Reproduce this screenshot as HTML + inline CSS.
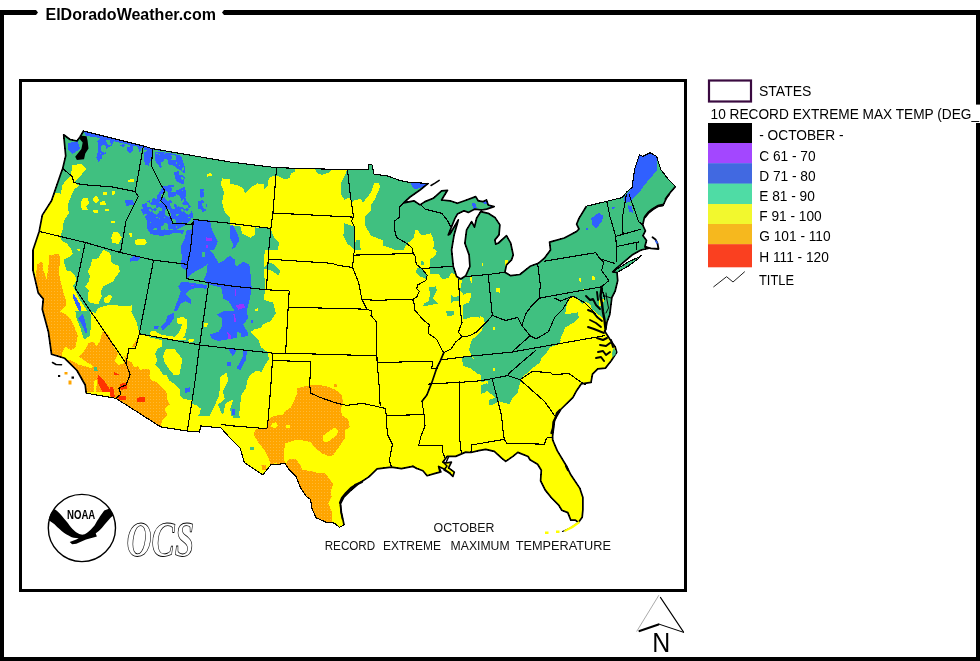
<!DOCTYPE html>
<html><head><meta charset="utf-8"><title>ElDoradoWeather.com</title>
<style>html,body{margin:0;padding:0;background:#fff;overflow:hidden}body{width:980px;height:661px;position:relative}</style></head>
<body>
<svg width="980" height="661" viewBox="0 0 980 661" style="position:absolute;left:0;top:0">
<defs><clipPath id="us"><path d="M63.7 134.8 L70.0 139.5 L77.0 141.0 L80.0 137.0 L83.5 131.0 L143.4 146.0 L152.6 148.7 L230.0 162.0 L276.6 167.7 L347.5 169.7 L368.9 169.1 L368.9 164.6 L372.0 165.0 L374.0 174.2 L387.3 175.9 L399.6 180.4 L409.8 182.4 L428.2 183.4 L420.0 190.0 L410.0 197.0 L403.7 202.8 L413.9 200.8 L420.0 204.9 L425.0 201.6 L433.3 198.3 L441.6 190.8 L447.5 190.3 L444.1 195.8 L441.6 200.0 L450.0 200.8 L457.4 203.3 L466.6 200.0 L475.7 196.6 L478.2 200.8 L483.2 201.6 L486.5 200.0 L488.2 205.0 L494.1 206.6 L486.6 209.1 L481.6 210.0 L474.9 209.1 L468.3 212.4 L464.0 210.8 L457.4 214.1 L455.0 218.3 L448.3 234.9 L450.0 234.0 L458.3 220.0 L454.1 234.9 L451.6 249.9 L453.3 266.5 L456.6 276.5 L460.8 279.0 L465.8 275.7 L469.9 266.5 L469.1 254.9 L464.9 243.2 L466.6 229.9 L471.6 221.6 L474.5 227.0 L476.6 218.3 L480.7 211.6 L488.2 213.3 L494.9 217.4 L499.9 224.9 L499.0 234.9 L494.9 239.9 L495.7 244.1 L498.5 243.0 L506.5 235.7 L510.7 243.2 L513.2 254.9 L511.5 259.9 L506.5 264.9 L504.9 272.3 L510.7 275.7 L519.9 274.5 L530.1 266.3 L538.3 263.3 L544.4 258.2 L550.5 250.0 L549.6 242.1 L564.3 238.0 L576.6 231.5 L579.0 229.0 L576.6 224.2 L579.0 218.4 L586.4 206.2 L606.8 201.3 L622.3 197.5 L626.4 192.3 L632.1 187.4 L634.6 169.4 L639.5 154.7 L642.7 156.3 L650.1 152.7 L656.6 156.3 L660.7 169.4 L668.9 180.0 L675.4 186.6 L670.5 192.3 L667.0 197.0 L663.0 205.5 L658.0 206.0 L653.0 209.0 L648.5 212.5 L644.4 217.5 L642.7 225.0 L645.4 230.9 L643.0 235.7 L646.5 240.5 L645.0 246.0 L648.0 248.5 L643.0 249.5 L640.5 250.3 L632.0 255.1 L616.3 268.4 L612.7 272.0 L617.0 272.5 L617.7 280.6 L615.1 291.2 L611.9 297.5 L610.9 305.0 L609.8 314.5 L607.0 322.0 L605.5 330.0 L604.6 331.0 L609.9 339.3 L615.2 346.9 L616.7 352.2 L611.4 360.5 L605.4 368.1 L597.8 368.8 L592.5 374.1 L591.0 382.4 L581.2 383.9 L576.6 390.7 L573.0 397.3 L560.7 409.5 L554.6 419.7 L552.6 436.1 L552.7 440.0 L557.2 450.6 L566.3 465.7 L570.8 474.8 L579.9 488.4 L582.9 497.5 L582.9 509.6 L582.2 517.2 L578.4 522.5 L575.4 520.2 L570.8 520.2 L567.8 512.6 L561.8 510.3 L558.7 505.1 L551.2 497.5 L545.1 489.9 L540.6 480.8 L541.3 470.3 L537.6 464.2 L530.0 459.7 L528.1 456.5 L517.8 452.4 L512.9 456.4 L505.7 461.4 L501.4 457.9 L494.3 451.4 L485.7 449.3 L478.6 450.7 L471.0 452.5 L465.7 452.1 L455.7 456.4 L447.1 456.4 L442.9 462.1 L446.0 463.0 L451.4 462.1 L448.6 467.9 L454.3 472.1 L452.9 476.4 L450.0 473.6 L444.0 469.0 L438.6 466.4 L440.0 472.1 L434.3 473.6 L427.1 475.7 L422.9 470.7 L417.0 468.5 L412.9 466.4 L401.4 468.6 L391.4 467.1 L377.1 468.8 L368.9 476.9 L358.4 483.8 L349.9 491.2 L343.6 497.5 L340.4 503.9 L341.4 512.4 L344.1 525.1 L339.3 527.2 L334.0 523.0 L326.6 522.4 L316.0 517.7 L311.8 508.1 L310.7 499.7 L306.5 496.5 L300.1 486.9 L295.9 476.4 L289.5 470.0 L285.2 463.7 L270.9 464.7 L262.7 474.9 L256.6 470.8 L244.3 462.6 L240.2 448.3 L230.0 438.1 L221.0 427.9 L200.6 425.9 L199.6 432.0 L187.3 431.0 L160.7 426.9 L115.8 398.3 L86.2 393.2 L85.2 385.0 L77.0 370.5 L64.7 358.3 L51.5 354.2 L48.4 331.7 L42.3 309.2 L43.3 299.0 L38.2 292.9 L33.0 270.4 L33.0 250.0 L39.2 231.4 L42.3 215.1 L51.5 200.8 L60.6 174.2 L62.7 168.5 L65.7 155.9Z M614.0 271.0 L628.0 262.0 L638.1 257.5 L641.7 255.1 L638.0 259.0 L628.4 266.0 L616.0 273.0Z"/></clipPath>
<pattern id="od" width="3" height="3" patternUnits="userSpaceOnUse"><rect width="3" height="3" fill="#ffa500"/><rect width="1" height="1" fill="#ffb833"/></pattern>
<pattern id="bs" width="32" height="32" patternUnits="userSpaceOnUse"><rect width="32" height="32" fill="#3060ff"/><path d="M4 0h4v1h-4zM3 1h5v1h-5zM1 2h7v1h-7zM16 2h1v1h-1zM1 3h7v1h-7zM16 3h1v1h-1zM1 4h7v1h-7zM26 4h3v1h-3zM1 5h3v1h-3zM5 5h4v1h-4zM10 5h3v1h-3zM19 5h1v1h-1zM25 5h4v1h-4zM5 6h10v1h-10zM27 6h2v1h-2zM6 7h10v1h-10zM23 7h1v1h-1zM7 8h2v1h-2zM11 8h6v1h-6zM22 8h2v1h-2zM0 9h2v1h-2zM12 9h7v1h-7zM22 9h2v1h-2zM0 10h1v1h-1zM12 10h9v1h-9zM22 10h1v1h-1zM31 10h1v1h-1zM10 11h7v1h-7zM19 11h3v1h-3zM10 12h4v1h-4zM19 12h4v1h-4zM10 13h4v1h-4zM19 13h9v1h-9zM11 14h3v1h-3zM19 14h9v1h-9zM11 15h4v1h-4zM23 15h5v1h-5zM30 15h2v1h-2zM0 16h2v1h-2zM12 16h3v1h-3zM24 16h2v1h-2zM28 16h4v1h-4zM0 17h2v1h-2zM6 17h3v1h-3zM21 17h2v1h-2zM29 17h3v1h-3zM0 18h2v1h-2zM5 18h5v1h-5zM21 18h3v1h-3zM25 18h1v1h-1zM28 18h4v1h-4zM5 19h5v1h-5zM22 19h1v1h-1zM24 19h7v1h-7zM5 20h5v1h-5zM25 20h6v1h-6zM5 21h6v1h-6zM26 21h4v1h-4zM5 22h6v1h-6zM16 22h3v1h-3zM28 22h1v1h-1zM6 23h5v1h-5zM16 23h2v1h-2zM8 24h1v1h-1zM4 25h1v1h-1zM28 25h2v1h-2zM31 26h1v1h-1zM11 27h4v1h-4zM12 28h4v1h-4zM12 29h4v1h-4zM12 30h4v1h-4zM22 30h1v1h-1zM4 31h3v1h-3zM11 31h5v1h-5z" fill="#40c080"/></pattern>
</defs>
<rect x="0" y="10" width="980" height="5" fill="#000"/>
<rect x="0" y="10" width="4" height="651" fill="#000"/>
<rect x="976" y="10" width="4" height="651" fill="#000"/>
<rect x="0" y="657" width="980" height="4" fill="#000"/>
<rect x="36" y="5" width="188" height="14" fill="#fff"/>
<path d="M36 10 L38 12.5 L36 15Z M224 10 L222 12.5 L224 15Z" fill="#000"/>
<text x="45.5" y="19.5" font-family="Liberation Sans, Arial, sans-serif" font-weight="bold" font-size="16px" textLength="170.5" lengthAdjust="spacingAndGlyphs">ElDoradoWeather.com</text>
<rect x="20.5" y="80.5" width="665" height="510" fill="#fff" stroke="#000" stroke-width="3"/>
<g shape-rendering="crispEdges">
<g clip-path="url(#us)">
<rect x="20" y="100" width="670" height="450" fill="#ffff00"/>
<polygon points="20.0,100.0 276.0,100.0 268.0,250.0 262.0,325.0 246.0,385.0 236.0,415.0 228.0,418.0 200.0,420.0 190.0,400.0 160.0,380.0 150.0,360.0 120.0,340.0 100.0,330.0 80.0,300.0 70.0,280.0 60.0,250.0 50.0,235.0 20.0,235.0" fill="#40c080"/>
<polygon points="71.9,165.1 81.1,164.0 86.2,169.1 80.1,176.3 73.9,182.4 79.0,185.5 73.9,189.6 70.9,196.7 67.8,204.9 68.8,213.1 63.7,221.2 62.7,229.4 60.6,235.5 58.6,250.0 30.0,250.0 40.2,200.8 51.5,200.8 55.5,192.6 60.6,193.7 62.7,184.5 69.8,176.3 71.9,170.2" fill="#ffff00"/>
<polygon points="82.1,198.8 87.2,197.7 89.2,202.8 86.2,205.9 88.2,210.0 82.1,210.0 80.7,204.9" fill="#ffff00"/>
<polygon points="93.7,196.7 97.4,196.3 99.1,200.8 95.4,203.3 92.9,200.4" fill="#ffff00"/>
<polygon points="99.5,201.8 105.2,201.2 106.0,204.9 100.5,205.3" fill="#ffff00"/>
<polygon points="102.5,192.6 106.6,192.2 106.6,195.1 102.5,195.3" fill="#ffff00"/>
<polygon points="112.1,190.6 114.8,190.6 114.4,194.7 111.7,194.7" fill="#ffff00"/>
<polygon points="93.3,210.0 98.4,210.2 98.4,213.1 93.7,213.1" fill="#ffff00"/>
<polygon points="104.6,209.0 108.7,209.4 108.7,211.4 104.6,211.0" fill="#ffff00"/>
<polygon points="110.7,221.2 114.8,221.2 114.8,223.3 110.7,223.3" fill="#ffff00"/>
<polygon points="128.1,180.0 133.8,178.7 134.2,182.0 128.5,182.4" fill="#ffff00"/>
<polygon points="112.7,233.5 117.8,231.9 121.9,237.6 118.9,243.7 112.7,243.3 111.3,237.6" fill="#ffff00"/>
<polygon points="129.1,232.5 132.1,233.5 132.1,237.6 129.7,236.6" fill="#ffff00"/>
<polygon points="135.2,240.0 144.4,239.6 146.9,242.7 144.4,244.9 135.8,244.7" fill="#ffff00"/>
<polygon points="206.7,173.8 211.4,173.2 211.8,175.9 207.3,176.7" fill="#ffff00"/>
<polygon points="222.0,178.3 230.0,179.4 230.0,217.1 225.1,213.1 222.0,202.8 224.1,192.6 221.0,184.5" fill="#ffff00"/>
<polygon points="69.8,143.6 78.0,142.6 80.1,148.7 73.9,152.8 69.8,148.7" fill="#3060ff"/>
<polygon points="97.4,141.6 100.5,137.5 114.8,139.5 111.7,145.6 107.6,147.7 105.6,153.8 101.5,155.9 104.6,166.1 100.5,165.1 96.4,157.9 98.4,149.7" fill="url(#bs)"/>
<polygon points="119.9,142.6 141.3,145.6 140.3,152.8 134.2,148.7 130.1,153.8 125.0,147.7 120.9,148.7" fill="url(#bs)"/>
<polygon points="144.4,147.7 152.2,148.7 151.6,157.9 148.5,166.1 144.4,164.0" fill="url(#bs)"/>
<polygon points="154.6,151.8 168.9,152.8 181.2,155.9 185.3,168.1 184.2,184.5 177.1,182.4 173.0,174.2 171.0,166.1 164.8,162.0 160.7,168.1 155.6,162.0" fill="url(#bs)"/>
<polygon points="162.8,186.5 173.0,184.5 177.1,190.6 185.3,186.5 186.3,200.8 191.4,206.9 193.4,217.1 185.3,225.3 177.1,229.4 168.9,235.5 152.6,234.5 146.4,229.4 147.5,221.2 141.3,211.0 140.3,204.9 148.5,200.8 156.7,196.7 160.7,190.6" fill="url(#bs)"/>
<polygon points="200.6,188.5 204.7,189.6 203.6,200.8 207.7,202.8 205.7,211.0 197.5,213.1 198.5,200.8" fill="url(#bs)"/>
<polygon points="125.0,199.8 133.2,200.4 134.2,204.9 126.0,205.9" fill="#3060ff"/>
<polygon points="193.4,219.2 209.8,220.2 211.8,229.4 217.9,241.7 213.9,250.0 181.2,250.0 185.3,237.6 191.4,229.4" fill="#3060ff"/>
<polygon points="173.0,196.7 179.1,194.7 182.2,202.8 177.1,206.9" fill="#40c080"/>
<polygon points="230.0,115.0 430.0,115.0 430.0,250.0 230.0,250.0" fill="#ffff00"/>
<polygon points="230.0,115.0 295.4,115.0 295.4,171.2 291.3,173.2 289.2,178.3 284.1,179.4 279.0,176.3 276.6,176.3 273.9,175.3 268.8,178.3 269.8,182.4 264.7,189.6 263.7,184.5 257.6,183.4 252.5,186.5 245.3,193.7 243.3,188.5 238.2,185.5 230.0,183.4" fill="#40c080"/>
<polygon points="314.8,168.1 332.1,168.1 330.1,172.2 321.9,174.7 316.8,173.2" fill="#40c080"/>
<polygon points="341.3,182.4 345.4,174.2 347.5,168.1 351.6,196.7 344.4,199.8 341.3,194.7" fill="#40c080"/>
<polygon points="344.4,223.3 350.5,225.3 354.2,226.3 355.0,250.0 347.5,243.7 343.4,235.5" fill="#40c080"/>
<polygon points="347.5,166.1 430.0,155.9 430.0,250.0 354.6,250.0 354.2,226.3 351.6,221.2 353.6,217.1 350.5,196.7" fill="#40c080"/>
<polygon points="352.6,200.8 360.7,198.8 362.8,202.8 371.0,192.6 374.0,183.4 378.1,182.4 380.2,186.5 375.0,198.8 371.0,204.9 371.0,211.0 364.8,217.1 364.8,225.3 371.0,235.5 381.2,239.6 383.2,243.7 377.1,250.0 354.6,250.0 354.2,226.3 351.6,221.2 353.6,217.1 352.2,206.9" fill="#ffff00"/>
<polygon points="355.6,240.6 359.7,239.6 360.7,250.0 355.0,250.0" fill="#40c080"/>
<polygon points="409.8,250.0 413.9,237.6 416.9,229.4 422.0,235.5 430.0,233.5 430.0,250.0" fill="#ffff00"/>
<polygon points="230.0,225.3 240.2,226.3 242.3,233.5 250.4,237.6 255.5,234.5 254.5,227.4 270.9,228.8 273.9,237.6 279.0,242.7 278.0,250.0 230.0,250.0" fill="#40c080"/>
<polygon points="230.0,226.3 233.1,225.3 238.2,235.5 239.2,241.7 234.1,245.7 230.0,237.6" fill="#3060ff"/>
<polygon points="410.8,181.4 422.0,180.8 428.2,184.1 415.9,189.6 411.8,186.5" fill="#3060ff"/>
<polygon points="267.8,180.0 271.5,179.4 271.9,183.4 268.2,183.6" fill="#ffff00"/>
<polygon points="430.0,115.0 695.6,115.0 695.6,250.0 430.0,250.0" fill="#40c080"/>
<polygon points="430.0,232.5 433.1,237.6 434.1,245.7 432.0,250.0 430.0,250.0" fill="#ffff00"/>
<polygon points="639.5,154.7 650.1,152.7 656.6,156.3 657.5,169.4 650.9,177.6 644.4,184.9 639.5,192.3 634.6,197.2 628.9,202.1 624.8,202.9 624.0,197.2 632.1,187.4 634.6,169.4" fill="#3060ff"/>
<polygon points="628.0,205.4 632.1,206.2 632.9,212.7 628.9,211.9" fill="#3060ff"/>
<polygon points="591.3,218.4 598.6,212.7 603.5,216.0 601.9,221.7 596.2,228.2 592.1,225.0" fill="#3060ff"/>
<polygon points="612.5,206.7 614.6,207.0 614.3,209.3 612.4,209.0" fill="#3060ff"/>
<polygon points="586.4,228.2 588.5,228.6 588.2,230.5 586.2,230.2" fill="#3060ff"/>
<polygon points="60.0,230.0 60.6,239.8 66.8,243.5 70.5,248.4 72.9,253.3 69.2,257.0 64.3,259.4 62.5,265.5 66.8,270.5 71.7,271.7 75.4,276.6 76.0,281.5 72.9,286.4 71.7,293.7 75.4,303.5 76.6,311.0 30.0,311.0 30.0,230.0" fill="#ffff00"/>
<polygon points="49.0,255.1 59.4,253.9 60.0,261.9 58.8,271.7 60.6,281.5 63.1,291.3 65.5,298.6 65.5,306.0 60.6,311.0 41.0,311.0 37.4,298.6 34.9,281.5 37.4,264.3 42.3,261.3 43.5,270.5 46.5,279.0 48.4,266.8" fill="url(#od)"/>
<polygon points="101.1,253.3 103.5,249.6 108.5,252.1 111.5,255.7 110.9,261.9 114.6,264.3 118.3,265.5 120.1,271.7 115.8,276.6 113.4,281.5 108.5,283.9 103.5,286.4 101.1,291.3 101.7,296.2 98.6,303.5 93.7,303.5 88.8,302.3 87.6,296.2 88.8,290.1 85.2,286.4 88.8,281.5 90.1,275.4 87.6,271.7 90.1,266.8 92.5,259.4 98.6,258.2" fill="#ffff00"/>
<polygon points="103.5,298.6 109.7,294.4 112.1,296.2 109.7,302.3 104.8,303.5" fill="#ffff00"/>
<polygon points="108.5,308.5 115.8,306.0 123.2,307.2 131.7,305.4 131.7,311.0 108.5,311.0" fill="#ffff00"/>
<polygon points="113.4,231.8 118.3,232.5 121.3,237.4 118.3,242.3 113.4,243.5 111.1,238.6" fill="#ffff00"/>
<polygon points="135.2,239.6 145.2,239.2 146.5,242.3 140.3,244.7 135.4,243.5" fill="#ffff00"/>
<polygon points="129.3,233.1 131.7,233.4 132.4,237.4 129.9,236.7" fill="#ffff00"/>
<polygon points="77.2,249.0 80.3,248.4 80.5,250.6 77.6,250.8" fill="#ffff00"/>
<polygon points="129.5,258.8 134.2,256.0 140.9,257.2 137.9,260.6 130.5,261.6" fill="#3060ff"/>
<polygon points="73.5,293.7 76.6,298.6 80.3,304.8 81.5,311.0 79.0,311.0 75.4,303.5 72.9,297.4" fill="#3060ff"/>
<polygon points="30.0,311.0 75.4,311.0 76.6,318.4 81.5,329.4 83.9,339.2 90.1,335.5 91.3,318.4 90.1,311.0 98.6,314.7 106.0,313.5 115.8,318.4 120.7,315.9 123.2,324.5 135.4,329.4 139.7,334.3 150.0,336.7 150.0,392.0 30.0,392.0" fill="#ffff00"/>
<polygon points="75.4,311.0 90.1,311.0 91.3,318.4 90.1,335.5 83.9,339.8 80.9,329.4 76.6,318.4" fill="#40c080"/>
<polygon points="77.8,318.4 82.7,314.1 85.2,320.8 87.6,334.3 85.2,332.5 82.1,324.5" fill="#3060ff"/>
<polygon points="37.4,311.0 59.4,311.0 66.8,314.7 71.7,320.8 75.4,329.4 77.8,335.5 76.6,341.6 75.4,347.8 70.5,350.2 65.5,346.5 61.9,352.7 62.5,357.0 48.4,357.6" fill="url(#od)"/>
<polygon points="79.0,356.4 83.9,351.5 88.8,342.9 93.7,341.6 96.2,346.5 99.9,341.6 102.3,331.8 108.5,334.3 113.4,346.5 118.3,353.9 114.6,361.3 118.3,364.9 123.2,363.7 125.6,360.0 120.7,346.5 124.4,341.6 128.1,339.2 131.7,334.3 135.4,333.1 137.9,335.5 135.4,346.5 128.1,347.8 126.8,360.0 131.7,362.5 134.2,367.4 137.9,366.2 140.3,369.8 145.2,368.6 150.0,369.8 150.0,392.0 86.4,392.0 83.9,380.9 76.6,372.3 70.5,366.2 63.1,359.4 70.5,360.0 79.0,364.9 85.2,366.2 91.3,368.6 93.7,366.2 85.2,361.3" fill="url(#od)"/>
<polygon points="93.7,367.6 96.8,367.1 97.7,370.8 94.7,371.3" fill="#40c080"/>
<polygon points="98.6,374.7 103.5,379.6 108.5,387.0 110.9,392.0 102.3,392.0 98.6,384.5 97.4,378.4" fill="#ff3300"/>
<polygon points="113.4,371.7 119.5,374.7 124.4,377.8 126.8,384.5 121.9,387.0 118.3,380.9 114.6,376.0" fill="#ff3300"/>
<polygon points="94.4,380.9 96.8,379.6 96.2,392.0 93.7,392.0" fill="#ffff00"/>
<polygon points="186.8,230.0 211.3,230.0 215.0,237.4 216.2,242.3 211.3,245.9 208.8,249.6 213.7,254.5 218.6,263.1 223.5,260.6 229.7,255.7 234.6,259.4 235.8,266.8 243.2,261.9 249.3,264.3 250.5,274.1 251.7,287.6 249.9,298.6 246.8,311.0 234.6,311.0 228.5,301.1 223.5,298.6 221.1,287.6 207.6,283.9 203.9,279.0 206.4,274.1 207.6,264.3 203.9,266.8 192.9,272.9 186.8,279.0 186.2,270.5 180.6,266.8 181.9,257.0 180.6,247.2 184.3,239.8" fill="#3060ff"/>
<polygon points="201.5,252.1 204.5,251.5 205.4,256.4 202.1,257.2" fill="#40c080"/>
<polygon points="229.7,230.0 235.8,230.0 238.3,239.8 235.8,247.2 231.5,249.6 234.6,241.0 230.9,234.9" fill="#3060ff"/>
<polygon points="181.9,281.5 190.5,282.7 199.0,283.9 207.6,285.2 206.4,288.8 196.6,287.6 189.2,290.1 185.5,293.7 190.5,298.6 190.5,303.5 185.5,301.1 180.6,303.5 177.0,311.0 173.9,311.0 178.2,298.6 180.6,291.3 178.2,286.4" fill="#3060ff"/>
<polygon points="150.0,230.0 184.3,230.0 183.1,233.7 172.1,232.5 162.3,236.1 150.0,233.7" fill="#3060ff"/>
<polygon points="205.8,237.4 212.5,238.0 211.9,241.0 206.4,240.8" fill="#9933ff"/>
<polygon points="205.8,245.3 207.6,245.3 207.6,248.4 205.8,248.4" fill="#9933ff"/>
<polygon points="190.5,284.5 194.1,284.8 193.9,286.4 190.7,286.1" fill="#9933ff"/>
<polygon points="234.6,288.8 235.8,288.8 235.8,296.2 234.6,296.2" fill="#9933ff"/>
<polygon points="235.8,305.4 243.2,303.5 245.6,307.2 238.3,309.7" fill="#9933ff"/>
<polygon points="246.8,230.0 254.2,230.0 253.6,235.5 248.1,236.1" fill="#ffff00"/>
<polygon points="264.6,251.5 268.9,251.5 268.9,255.7 264.6,255.7" fill="#ffff00"/>
<polygon points="264.0,270.5 267.7,270.5 267.7,277.8 264.0,277.8" fill="#ffff00"/>
<polygon points="264.0,298.6 270.0,298.6 270.0,306.0 264.0,306.0" fill="#ffff00"/>
<polygon points="216.2,314.7 223.5,311.0 246.8,311.0 248.1,318.4 243.2,324.5 248.1,333.1 246.8,347.8 243.2,351.5 245.6,360.0 240.7,369.8 237.0,368.6 240.7,360.0 241.9,347.8 235.8,346.5 234.6,355.1 230.9,352.7 228.5,346.5 223.5,341.6 216.2,340.4 211.3,338.0 210.1,334.3 218.6,331.8 222.3,325.7 222.3,318.4" fill="#3060ff"/>
<polygon points="237.0,331.8 241.3,333.1 240.7,342.9 237.6,340.4" fill="#40c080"/>
<polygon points="226.0,361.9 230.9,362.2 230.7,366.2 226.6,365.9" fill="#3060ff"/>
<polygon points="250.5,319.6 253.0,319.8 252.7,323.3 250.5,323.0" fill="#3060ff"/>
<polygon points="167.2,315.9 174.5,312.2 173.9,318.4 169.6,324.5 162.3,330.6 161.0,326.9 165.9,322.0" fill="#3060ff"/>
<polygon points="153.7,326.3 158.6,325.7 158.3,329.1 153.9,329.4" fill="#3060ff"/>
<polygon points="233.4,313.5 235.2,313.5 235.8,322.0 234.0,322.0" fill="#9933ff"/>
<polygon points="227.2,331.8 230.9,335.5 230.3,342.9 228.5,341.6" fill="#9933ff"/>
<polygon points="177.0,318.4 183.1,316.5 186.8,319.6 186.8,328.2 184.9,335.5 180.6,339.2 174.5,336.7 179.4,331.8 181.9,324.5 177.0,323.3" fill="#ffff00"/>
<polygon points="150.0,331.8 154.9,330.6 159.8,334.3 165.9,335.5 174.5,336.7 185.5,338.0 186.8,340.4 174.5,339.8 150.0,336.7" fill="#ffff00"/>
<polygon points="188.0,339.8 192.9,338.6 194.7,341.0 189.2,342.9" fill="#ffff00"/>
<polygon points="203.9,322.6 207.6,322.9 207.4,326.9 204.2,326.7" fill="#ffff00"/>
<polygon points="165.9,349.0 174.5,349.0 179.4,355.1 182.5,360.0 180.6,368.6 179.4,374.7 174.5,376.0 169.6,369.8 164.7,362.5 162.9,356.4" fill="#ffff00"/>
<polygon points="150.0,337.4 162.3,340.4 162.3,346.5 157.4,349.0 154.9,353.9 157.4,360.0 154.9,364.9 159.8,369.8 164.7,377.2 172.1,383.3 179.4,392.0 150.0,392.0" fill="#ffff00"/>
<polygon points="150.0,384.5 154.9,382.1 158.6,374.7 161.0,384.5 163.5,392.0 150.0,392.0" fill="url(#od)"/>
<polygon points="220.5,377.2 227.8,372.3 227.2,382.1 223.5,392.0 219.9,392.0" fill="#ffff00"/>
<polygon points="270.0,351.5 267.7,360.0 260.3,369.8 253.0,372.3 248.1,379.6 245.6,392.0 270.0,392.0" fill="#ffff00"/>
<polygon points="262.8,323.3 270.0,324.5 270.0,351.5 265.2,350.2 260.3,345.3 257.9,338.0 251.7,333.1 254.2,329.4 261.5,328.2" fill="#ffff00"/>
<polygon points="185.5,388.2 189.2,387.6 189.8,392.0 184.9,392.0" fill="#3060ff"/>
<polygon points="264.7,250.0 430.0,250.0 430.0,385.0 246.3,385.0 250.4,372.6 262.7,370.5 268.8,360.3 266.8,352.1 260.6,346.0 256.6,337.8 250.4,331.7 260.6,327.6 268.8,321.5 274.9,315.4 272.9,305.2 264.7,299.0 266.8,290.9 263.7,270.4" fill="#ffff00"/>
<polygon points="263.7,268.4 270.9,270.4 279.0,275.5 280.1,270.4 273.9,264.3 268.8,262.3" fill="#40c080"/>
<polygon points="254.5,309.2 257.6,308.2 257.6,311.3 254.5,311.3" fill="#ffff00"/>
<polygon points="430.0,250.0 654.7,250.0 654.7,385.0 430.0,385.0" fill="#40c080"/>
<polygon points="409.6,274.5 430.0,274.5 438.2,273.5 442.3,279.6 451.5,276.6 457.6,280.6 460.6,290.9 463.7,294.9 470.9,292.9 469.8,301.1 462.7,305.2 462.7,319.5 470.9,317.4 479.0,317.4 484.1,323.5 481.1,331.7 471.9,339.9 468.8,350.1 477.0,364.4 481.1,376.7 480.1,385.0 409.6,385.0" fill="#ffff00"/>
<polygon points="430.0,290.9 436.1,291.9 437.2,299.0 432.0,303.5 430.0,303.1" fill="#40c080"/>
<polygon points="446.3,311.3 454.5,310.9 454.1,315.4 446.8,315.8" fill="#40c080"/>
<polygon points="450.4,293.9 456.1,292.9 456.6,302.1 451.5,303.5" fill="#40c080"/>
<polygon points="573.0,297.0 568.9,303.1 573.0,311.3 579.1,313.3 577.1,321.5 571.0,325.6 564.8,327.6 562.8,335.8 560.7,341.9 552.6,348.1 546.4,350.1 546.4,356.2 540.3,362.4 536.2,368.5 528.1,372.6 521.9,378.7 519.9,385.0 654.7,385.0 654.7,327.6 613.9,327.6 609.8,317.4 603.6,311.3 601.6,301.1 593.4,297.0 585.3,300.1 579.1,296.0" fill="#ffff00"/>
<polygon points="605.7,299.0 611.8,301.1 611.8,317.4 609.8,331.7 606.1,331.7 607.3,317.4 603.6,307.2" fill="#40c080"/>
<polygon points="373.9,241.0 380.0,241.0 383.7,245.9 392.3,248.4 398.4,253.3 402.1,252.1 405.7,245.9 408.2,242.3 412.5,248.4 413.1,253.3 416.8,266.8 421.7,268.6 427.2,275.4 426.0,280.3 417.4,285.2 419.2,291.3 416.8,296.8 413.1,311.0 373.9,311.0" fill="#ffff00"/>
<polygon points="380.0,240.1 383.1,240.4 383.4,243.7 380.0,244.1" fill="#ffff00"/>
<polygon points="415.5,230.0 420.5,234.9 426.6,234.9 430.3,238.6 433.9,242.3 432.7,248.4 437.0,250.8 435.2,255.7 430.3,259.4 429.0,265.5 426.6,268.0 421.7,268.6 416.2,264.3 415.5,257.0 413.1,253.3 412.5,248.4 407.0,243.5 410.6,241.0 413.7,237.4" fill="#ffff00"/>
<polygon points="420.5,261.3 423.9,261.6 424.1,265.5 421.1,265.3" fill="#40c080"/>
<polygon points="416.8,268.0 421.7,268.6 427.2,275.4 426.0,279.0 420.5,276.6 416.2,272.3" fill="#40c080"/>
<polygon points="427.2,275.4 429.0,276.6 433.9,274.1 437.6,275.4 438.8,280.9 443.7,279.0 448.6,277.8 451.1,272.9 454.8,274.1 458.5,279.0 460.3,311.0 413.1,311.0 416.8,296.8 419.2,291.3 417.4,285.2 426.0,280.3" fill="#ffff00"/>
<polygon points="428.4,287.6 435.8,286.4 437.0,290.1 432.7,298.6 437.6,303.5 429.0,305.4 422.9,306.6 424.1,303.5 428.4,301.1 430.3,293.7" fill="#40c080"/>
<polygon points="450.5,293.1 453.5,297.4 458.5,296.2 458.5,300.5 453.5,301.1 451.1,303.5" fill="#40c080"/>
<polygon points="459.1,279.6 461.9,280.3 460.9,287.6 459.1,288.8" fill="#ffff00"/>
<polygon points="460.3,296.8 465.8,293.7 470.1,292.5 470.7,297.4 468.3,303.5 460.9,302.3" fill="#ffff00"/>
<polygon points="470.1,276.6 472.2,276.8 472.5,283.9 470.7,282.7" fill="#ffff00"/>
<polygon points="495.8,287.6 499.5,287.9 499.5,292.5 495.8,292.3" fill="#ffff00"/>
<polygon points="481.7,263.1 483.0,263.1 483.0,266.2 481.7,266.2" fill="#ffff00"/>
<polygon points="110.0,375.1 270.0,375.1 270.0,488.0 110.0,488.0" fill="#ffff00"/>
<polygon points="110.0,375.1 149.2,375.1 150.9,380.0 157.4,382.5 162.3,388.2 166.4,392.3 167.2,399.6 169.7,404.5 164.7,408.6 167.2,415.1 162.3,420.0 160.7,425.8 158.2,427.4 110.0,398.0" fill="url(#od)"/>
<polygon points="137.0,397.6 144.6,397.2 145.1,401.6 137.5,402.1" fill="#ff3300"/>
<polygon points="110.0,386.5 113.3,387.4 114.9,397.2 110.0,396.3" fill="#ff3300"/>
<polygon points="119.8,383.6 126.3,383.3 127.2,389.0 120.6,389.8" fill="#ff3300"/>
<polygon points="118.2,396.3 125.5,396.0 126.3,399.9 119.0,400.4" fill="#ff3300"/>
<polygon points="166.4,375.1 194.2,375.1 191.7,399.6 184.4,400.4 180.3,396.3 180.3,389.8 175.4,384.9 168.8,380.0" fill="#40c080"/>
<polygon points="194.2,375.1 227.7,375.1 227.7,380.0 222.8,389.8 218.7,396.3 213.0,402.9 208.1,411.1 203.2,411.9 199.1,406.1 193.3,402.9 191.7,399.6" fill="#40c080"/>
<polygon points="227.7,375.1 248.1,375.1 247.3,380.0 244.0,396.3 240.7,407.8 239.9,417.6 233.4,418.4 231.8,409.4 232.6,399.6 227.7,406.1 223.6,414.3 217.9,408.6 221.1,402.9 225.2,401.2 222.8,391.4" fill="#40c080"/>
<polygon points="185.2,387.8 189.8,387.4 190.1,392.3 185.5,392.3" fill="#3060ff"/>
<polygon points="195.0,398.8 198.2,399.1 197.9,402.1 195.0,402.1" fill="#3060ff"/>
<polygon points="231.8,409.4 235.0,409.4 235.0,415.1 231.8,415.1" fill="#3060ff"/>
<polygon points="249.7,446.7 253.5,447.0 253.8,450.3 250.1,450.3" fill="#40c080"/>
<polygon points="297.4,388.0 308.8,385.5 317.0,384.7 326.8,386.3 335.0,389.6 341.5,394.5 343.2,401.9 340.7,409.2 342.3,415.8 348.1,419.0 349.7,427.2 344.8,430.5 344.8,438.6 339.1,446.8 333.3,455.0 330.1,456.6 321.9,453.3 315.4,448.4 310.5,441.9 302.3,440.3 294.1,440.3 285.1,443.5 283.5,455.0 285.1,465.6 275.3,463.2 270.4,464.8 268.8,458.2 264.7,450.1 259.0,443.5 254.1,435.4 254.9,429.7 267.2,427.2 268.8,419.0 274.5,415.8 282.7,414.9 285.1,410.9 290.9,407.6 294.1,401.1 296.6,394.5" fill="url(#od)"/>
<polygon points="272.1,423.1 276.1,422.3 278.1,425.6 274.5,428.3 271.2,426.4" fill="#ffff00"/>
<polygon points="286.0,425.1 289.7,424.7 290.0,428.0 286.3,428.0" fill="#ffff00"/>
<polygon points="323.5,435.4 330.1,430.5 335.0,427.2 338.2,430.5 336.6,435.4 330.1,440.3 326.0,442.7 322.7,440.3" fill="#ffff00"/>
<polygon points="334.2,384.4 337.1,383.9 337.4,387.2 334.5,387.2" fill="url(#od)"/>
<polygon points="261.4,465.1 266.3,464.8 266.0,469.7 261.8,469.7" fill="url(#od)"/>
<polygon points="250.0,447.1 253.6,446.8 254.1,450.1 250.0,450.1" fill="#40c080"/>
<polygon points="283.5,454.5 285.1,465.1 289.2,458.6 295.8,459.4 300.7,465.1 302.3,470.0 310.5,470.9 318.6,473.3 325.2,473.3 328.4,477.4 333.3,483.9 330.9,490.5 331.7,497.0 328.4,503.5 331.7,511.7 331.7,524.0 328.4,524.0 317.0,518.2 311.3,508.4 308.8,498.6 298.2,485.6 294.1,474.9 285.1,466.3 282.7,462.7" fill="url(#od)"/>
<polygon points="529.0,290.0 659.8,290.0 659.8,398.0 529.0,398.0" fill="#40c080"/>
<polygon points="569.1,298.2 566.6,308.0 565.0,314.5 571.5,312.9 578.1,311.2 578.9,319.4 571.5,324.3 565.0,327.6 563.3,332.5 560.9,337.4 560.1,343.9 550.3,347.2 547.0,352.1 542.1,357.0 539.7,362.7 532.3,368.4 529.0,371.7 522.5,376.6 520.0,383.2 519.2,388.1 514.3,394.6 512.7,398.0 659.8,398.0 659.8,322.7 610.7,322.7 604.2,319.4 594.4,311.2 587.9,308.0 581.3,303.1 576.4,298.2 573.2,295.7" fill="#ffff00"/>
<polygon points="480.0,382.3 487.4,380.7 489.0,385.6 483.3,391.3 480.0,394.6" fill="#ffff00"/>
<polygon points="480.0,316.1 483.3,317.0 484.9,323.5 480.8,324.6" fill="#ffff00"/>
<polygon points="500.4,391.3 504.5,391.7 504.5,395.4 500.8,395.4" fill="#ffff00"/>
<polygon points="492.7,327.3 495.0,327.3 495.0,329.9 492.7,329.9" fill="#ffff00"/>
<polygon points="493.1,368.4 495.4,368.4 495.4,370.7 493.1,370.7" fill="#ffff00"/>
<polygon points="568.5,299.7 573.8,296.5 575.9,300.7 582.3,303.9 586.5,301.8 590.7,305.0 591.8,309.2 596.0,312.4 600.3,316.6 604.5,318.7 606.6,323.0 609.8,340.0 560.0,340.0 563.2,332.5 567.4,326.2 573.8,322.5 579.1,317.7 577.5,312.4 571.7,313.4 565.3,314.5 566.4,306.0" fill="#ffff00"/>
<polygon points="598.7,300.2 600.8,300.2 600.8,306.0 598.7,306.0" fill="#ffff00"/>
<polygon points="602.4,298.6 604.0,298.6 604.0,301.8 602.4,301.8" fill="#ffff00"/>
<polygon points="578.5,277.4 581.2,277.9 581.0,281.7 578.9,281.4" fill="#ffff00"/>
<polygon points="591.8,276.4 595.0,276.6 594.8,280.1 592.0,279.7" fill="#ffff00"/>
<polygon points="582.8,288.5 584.4,288.5 584.4,290.7 582.8,290.7" fill="#ffff00"/>
<polygon points="389.1,389.1 634.3,389.1 634.3,528.0 389.1,528.0" fill="#ffff00"/>
<polygon points="493.3,380.9 519.9,380.9 517.8,393.2 511.7,399.3 509.7,404.4 499.5,401.3 491.3,405.4 489.2,404.4 495.4,397.3 487.2,391.1 481.1,392.2 485.2,385.0" fill="#40c080"/>
<polygon points="199.6,344.2 253.5,335.0 258.5,339.9 260.9,347.3 267.6,352.2 268.9,359.5 264.6,365.6 261.5,371.8 256.0,370.5 249.9,375.5 246.8,381.6 246.2,387.7 241.3,395.1 240.1,406.1 238.8,416.0 189.8,416.0" fill="#40c080"/>
<polygon points="258.5,335.0 258.5,339.9 260.9,347.3 267.6,352.2 268.9,359.5 264.6,365.6 261.5,371.8 256.0,370.5 249.9,375.5 246.8,381.6 246.2,387.7 241.3,395.1 240.1,406.1 238.8,416.0 273.2,416.0 278.1,335.0" fill="#ffff00"/>
<polygon points="227.2,372.4 227.8,381.6 222.9,391.4 224.7,398.7 218.0,404.9 221.7,413.5 229.0,416.0 209.4,416.0 215.5,403.6 219.2,395.1 220.5,376.7" fill="#ffff00"/>
<polygon points="233.3,399.4 230.3,408.5 230.9,416.0 222.9,416.0 225.4,403.6" fill="#ffff00"/>
<polygon points="180.0,400.6 186.1,398.7 191.0,403.6 195.9,404.9 200.8,408.5 199.6,413.5 197.2,416.0 180.0,416.0" fill="#ffff00"/>
<polygon points="243.1,350.3 246.8,350.9 246.2,359.5 242.5,365.6 240.7,370.5 236.4,368.1 240.1,362.0 242.5,357.1" fill="#3060ff"/>
<polygon points="228.4,348.7 236.4,349.5 235.2,353.4 232.7,356.5 230.3,352.2" fill="#3060ff"/>
<polygon points="227.2,362.2 230.6,362.0 230.9,366.3 227.6,366.3" fill="#3060ff"/>
<polygon points="184.9,388.0 189.6,387.7 189.8,392.4 185.1,392.6" fill="#3060ff"/>
<polygon points="232.1,409.2 235.2,409.4 234.9,414.7 232.1,414.7" fill="#3060ff"/>
<polygon points="98.3,307.9 109.5,304.7 125.4,306.3 131.7,312.6 136.5,322.2 139.7,334.9 125.4,357.1 93.6,315.8" fill="#ffff00"/>
<polygon points="471.6,203.3 474.9,202.5 476.6,207.5 473.3,209.1" fill="#3060ff"/>
<polygon points="455.8,214.9 464.1,210.0 465.8,211.6 458.3,216.6" fill="#3060ff"/>
<polygon points="483.2,200.0 487.4,200.3 487.4,204.1 483.6,204.1" fill="#3060ff"/>
<polygon points="489.9,205.8 494.1,206.1 494.1,208.3 489.9,208.0" fill="#3060ff"/>
<polygon points="469.1,214.1 472.4,214.1 472.4,216.6 469.1,216.6" fill="#3060ff"/>
<polygon points="504.9,260.2 508.2,259.9 508.2,265.7 505.2,265.7" fill="#ffff00"/>
<polygon points="462.0,358.0 470.0,356.0 478.0,362.0 484.0,372.0 478.0,374.0 470.0,368.0 463.0,366.0" fill="#40c080"/>
<polygon points="481.0,385.0 487.0,383.0 486.0,392.0 481.0,394.0" fill="#40c080"/>
<polygon points="489.0,400.0 494.0,398.0 494.0,404.0 489.0,405.0" fill="#40c080"/>
<polygon points="83.0,129.0 100.0,133.0 143.0,144.0 180.0,151.0 180.0,154.0 143.0,148.0 100.0,138.0 86.0,136.0" fill="#3060ff"/>
<polygon points="68.0,143.0 78.0,141.0 79.0,150.0 72.0,154.0 68.0,150.0" fill="#3060ff"/>
<polygon points="258.0,298.0 273.3,302.7 275.9,313.3 270.6,321.2 258.0,326.5" fill="#40c080"/>
</g>
<g fill="none" stroke="#000" stroke-width="1.1" stroke-linejoin="round">
<path d="M62.7 168.5 L71.9 176.3 L73.9 182.4 L81.0 184.5 L111.7 186.9 L135.2 191.6"/>
<path d="M143.4 146.0 L135.2 191.6"/>
<path d="M135.2 191.6 L138.3 196.7 L128.0 217.1 L126.0 221.0 L120.9 250.0 L119.5 252.3"/>
<path d="M39.2 231.4 L86.2 242.7 L119.5 252.3 L153.6 260.2 L187.3 264.3"/>
<path d="M152.6 148.7 L151.5 166.0 L160.7 184.5 L164.8 190.6 L160.7 200.8 L165.8 205.9 L173.0 223.3 L191.4 224.3 L193.4 221.2"/>
<path d="M193.4 221.2 L190.4 250.0 L187.3 264.3 L186.3 278.6"/>
<path d="M193.4 219.5 L230.0 223.3 L270.9 228.4"/>
<path d="M276.6 167.7 L272.9 213.0 L270.9 228.4 L268.8 250.0 L266.4 289.8"/>
<path d="M272.9 213.0 L352.6 217.1"/>
<path d="M347.5 169.7 L350.5 196.7 L353.6 217.1 L351.5 221.0 L354.2 226.3 L354.6 250.0 L353.6 255.1 L352.6 267.4"/>
<path d="M403.7 202.8 L399.6 206.9 L399.6 217.0 L394.4 221.2 L394.7 230.0 L396.5 237.4 L407.0 243.5 L412.5 248.4 L413.1 253.3"/>
<path d="M421.0 205.0 L425.0 209.1 L441.6 213.3 L446.6 219.1 L451.6 228.3"/>
<path d="M85.2 243.0 L75.4 288.8 L126.0 363.4 L130.1 374.6 L126.0 385.0 L118.9 388.0 L120.9 394.2 L115.8 398.3"/>
<path d="M126.0 363.4 L129.1 348.0 L135.2 349.0 L139.3 333.8"/>
<path d="M139.3 333.8 L153.6 260.2"/>
<path d="M186.3 278.6 L208.8 282.7 L230.0 285.8 L266.4 289.8 L289.2 290.9"/>
<path d="M208.8 282.7 L199.6 345.0 L194.5 385.0 L187.3 431.0"/>
<path d="M139.3 333.8 L199.6 345.0 L230.0 348.5 L272.9 353.2 L285.6 353.2 L377.1 355.8"/>
<path d="M289.2 290.9 L288.2 307.2 L285.6 353.2"/>
<path d="M288.2 307.2 L366.9 309.2"/>
<path d="M268.8 259.2 L332.1 263.3 L338.0 265.3 L352.6 267.4"/>
<path d="M353.6 255.1 L380.0 254.5 L413.1 253.3"/>
<path d="M352.6 267.4 L358.7 282.7 L361.8 299.0 L366.9 309.2 L372.0 311.0 L371.0 315.4 L376.1 321.5"/>
<path d="M361.8 299.5 L380.0 300.5 L394.7 299.3 L412.5 299.9"/>
<path d="M376.1 321.5 L377.1 362.4 L379.1 385.0 L380.2 406.4"/>
<path d="M272.9 353.2 L270.9 385.0 L267.4 428.5"/>
<path d="M272.9 360.3 L310.7 362.0 L309.7 385.0 L310.7 393.2 L319.9 397.3 L334.2 402.4 L346.4 405.4 L362.8 403.4 L377.1 406.5 L385.3 408.5 L386.3 415.6 L387.3 434.0 L392.4 444.2 L389.3 460.6 L391.4 466.7"/>
<path d="M377.1 362.7 L430.5 361.1 L432.9 361.1 L431.7 368.4 L437.8 368.4"/>
<path d="M413.1 253.3 L415.5 257.0 L416.2 264.3 L421.7 268.6 L427.2 275.4 L426.0 280.3 L417.4 285.2 L416.8 289.0 L419.2 291.3 L416.8 296.8 L412.5 299.9 L413.6 300.5 L414.8 310.2 L423.2 319.9 L429.3 324.8 L428.1 333.2 L436.6 339.3 L441.4 349.0 L443.8 352.6 L440.2 361.1 L436.6 368.4 L431.7 382.9 L426.9 395.0 L422.0 401.3 L424.0 414.6 L425.1 425.9 L421.0 436.0 L418.6 445.7"/>
<path d="M421.7 268.6 L452.5 266.2"/>
<path d="M458.4 279.0 L460.3 311.0 L462.0 322.3 L458.4 332.0 L462.0 336.9"/>
<path d="M465.8 276.5 L488.2 274.5 L504.9 272.3"/>
<path d="M488.2 274.5 L492.3 315.4"/>
<path d="M443.8 352.6 L451.1 349.0 L455.9 341.7 L462.0 336.9 L470.0 335.7 L477.0 331.7 L485.2 323.5 L492.3 315.4 L505.6 320.5 L517.8 317.4 L521.9 325.6 L526.0 313.3 L532.1 305.2 L539.3 298.0 L540.3 284.7 L537.7 264.3"/>
<path d="M540.3 298.0 L601.6 286.8"/>
<path d="M544.4 261.2 L595.7 252.7 L600.0 258.7 L603.7 262.3 L601.6 270.4 L608.8 280.6 L601.6 286.8 L603.0 292.6 L605.0 300.0"/>
<path d="M600.0 258.7 L615.1 263.6"/>
<path d="M521.9 325.6 L530.1 335.8 L536.2 338.9 L548.5 331.7 L554.6 317.4 L562.8 309.2 L568.9 299.0 L573.0 296.0 L585.3 303.1 L593.5 311.3 L598.0 318.0"/>
<path d="M554.6 298.0 L560.7 301.0 L573.0 296.0"/>
<path d="M530.1 335.8 L511.7 352.1"/>
<path d="M440.2 359.9 L470.0 356.2 L511.7 352.1 L605.4 335.5"/>
<path d="M536.2 350.0 L524.0 360.3 L507.6 374.6"/>
<path d="M428.1 384.1 L470.0 381.7 L481.0 380.7 L507.6 375.6 L519.9 379.7"/>
<path d="M519.9 379.7 L532.1 371.5 L550.5 372.5 L552.5 374.6 L568.9 373.6 L585.3 385.0"/>
<path d="M459.6 381.0 L459.3 435.0 L461.4 453.6"/>
<path d="M492.3 379.0 L501.5 415.6 L503.5 435.0 L504.3 439.3"/>
<path d="M471.0 452.5 L471.4 445.0 L504.3 439.3 L506.6 443.2 L544.4 444.2 L546.4 438.1 L552.6 437.0"/>
<path d="M519.9 379.7 L526.0 385.0 L544.4 401.3 L554.6 415.6"/>
<path d="M386.3 415.6 L423.0 414.6"/>
<path d="M418.6 445.7 L442.9 445.7 L442.2 451.0 L445.0 457.9"/>
<path d="M379.1 385.0 L380.2 406.4"/>
<path d="M606.8 201.3 L610.0 216.8 L615.8 236.4 L616.3 247.8 L616.9 262.4"/>
<path d="M626.4 193.9 L622.3 218.4 L623.1 234.8"/>
<path d="M628.9 193.9 L638.7 221.7 L642.7 225.0"/>
<path d="M615.8 236.4 L641.1 229.1"/>
<path d="M616.3 246.6 L639.3 241.8"/>
<path d="M636.3 243.0 L636.9 250.3"/>
<path d="M221.1 424.3 L230.0 425.7 L267.4 428.7"/>
</g>
<path d="M63.7 134.8 L70.0 139.5 L77.0 141.0 L80.0 137.0 L83.5 131.0 L143.4 146.0 L152.6 148.7 L230.0 162.0 L276.6 167.7 L347.5 169.7 L368.9 169.1 L368.9 164.6 L372.0 165.0 L374.0 174.2 L387.3 175.9 L399.6 180.4 L409.8 182.4 L428.2 183.4 L420.0 190.0 L410.0 197.0 L403.7 202.8 L413.9 200.8 L420.0 204.9 L425.0 201.6 L433.3 198.3 L441.6 190.8 L447.5 190.3 L444.1 195.8 L441.6 200.0 L450.0 200.8 L457.4 203.3 L466.6 200.0 L475.7 196.6 L478.2 200.8 L483.2 201.6 L486.5 200.0 L488.2 205.0 L494.1 206.6 L486.6 209.1 L481.6 210.0 L474.9 209.1 L468.3 212.4 L464.0 210.8 L457.4 214.1 L455.0 218.3 L448.3 234.9 L450.0 234.0 L458.3 220.0 L454.1 234.9 L451.6 249.9 L453.3 266.5 L456.6 276.5 L460.8 279.0 L465.8 275.7 L469.9 266.5 L469.1 254.9 L464.9 243.2 L466.6 229.9 L471.6 221.6 L474.5 227.0 L476.6 218.3 L480.7 211.6 L488.2 213.3 L494.9 217.4 L499.9 224.9 L499.0 234.9 L494.9 239.9 L495.7 244.1 L498.5 243.0 L506.5 235.7 L510.7 243.2 L513.2 254.9 L511.5 259.9 L506.5 264.9 L504.9 272.3 L510.7 275.7 L519.9 274.5 L530.1 266.3 L538.3 263.3 L544.4 258.2 L550.5 250.0 L549.6 242.1 L564.3 238.0 L576.6 231.5 L579.0 229.0 L576.6 224.2 L579.0 218.4 L586.4 206.2 L606.8 201.3 L622.3 197.5 L626.4 192.3 L632.1 187.4 L634.6 169.4 L639.5 154.7 L642.7 156.3 L650.1 152.7 L656.6 156.3 L660.7 169.4 L668.9 180.0 L675.4 186.6 L670.5 192.3 L667.0 197.0 L663.0 205.5 L658.0 206.0 L653.0 209.0 L648.5 212.5 L644.4 217.5 L642.7 225.0 L645.4 230.9 L643.0 235.7 L646.5 240.5 L645.0 246.0 L648.0 248.5 L643.0 249.5 L640.5 250.3 L632.0 255.1 L616.3 268.4 L612.7 272.0 L617.0 272.5 L617.7 280.6 L615.1 291.2 L611.9 297.5 L610.9 305.0 L609.8 314.5 L607.0 322.0 L605.5 330.0 L604.6 331.0 L609.9 339.3 L615.2 346.9 L616.7 352.2 L611.4 360.5 L605.4 368.1 L597.8 368.8 L592.5 374.1 L591.0 382.4 L581.2 383.9 L576.6 390.7 L573.0 397.3 L560.7 409.5 L554.6 419.7 L552.6 436.1 L552.7 440.0 L557.2 450.6 L566.3 465.7 L570.8 474.8 L579.9 488.4 L582.9 497.5 L582.9 509.6 L582.2 517.2 L578.4 522.5 L575.4 520.2 L570.8 520.2 L567.8 512.6 L561.8 510.3 L558.7 505.1 L551.2 497.5 L545.1 489.9 L540.6 480.8 L541.3 470.3 L537.6 464.2 L530.0 459.7 L528.1 456.5 L517.8 452.4 L512.9 456.4 L505.7 461.4 L501.4 457.9 L494.3 451.4 L485.7 449.3 L478.6 450.7 L471.0 452.5 L465.7 452.1 L455.7 456.4 L447.1 456.4 L442.9 462.1 L446.0 463.0 L451.4 462.1 L448.6 467.9 L454.3 472.1 L452.9 476.4 L450.0 473.6 L444.0 469.0 L438.6 466.4 L440.0 472.1 L434.3 473.6 L427.1 475.7 L422.9 470.7 L417.0 468.5 L412.9 466.4 L401.4 468.6 L391.4 467.1 L377.1 468.8 L368.9 476.9 L358.4 483.8 L349.9 491.2 L343.6 497.5 L340.4 503.9 L341.4 512.4 L344.1 525.1 L339.3 527.2 L334.0 523.0 L326.6 522.4 L316.0 517.7 L311.8 508.1 L310.7 499.7 L306.5 496.5 L300.1 486.9 L295.9 476.4 L289.5 470.0 L285.2 463.7 L270.9 464.7 L262.7 474.9 L256.6 470.8 L244.3 462.6 L240.2 448.3 L230.0 438.1 L221.0 427.9 L200.6 425.9 L199.6 432.0 L187.3 431.0 L160.7 426.9 L115.8 398.3 L86.2 393.2 L85.2 385.0 L77.0 370.5 L64.7 358.3 L51.5 354.2 L48.4 331.7 L42.3 309.2 L43.3 299.0 L38.2 292.9 L33.0 270.4 L33.0 250.0 L39.2 231.4 L42.3 215.1 L51.5 200.8 L60.6 174.2 L62.7 168.5 L65.7 155.9Z M614.0 271.0 L628.0 262.0 L638.1 257.5 L641.7 255.1 L638.0 259.0 L628.4 266.0 L616.0 273.0Z" fill="none" stroke="#000" stroke-width="1.1" stroke-linejoin="round"/>
</g>
<path d="M428.2 183.4 L420.0 190.0 L410.0 197.0 L403.7 202.8 L413.9 200.8 L420.0 204.9 L425.0 201.6 L433.3 198.3 L441.6 190.8 L447.5 190.3 L444.1 195.8 L441.6 200.0 L450.0 200.8 L457.4 203.3 L466.6 200.0 L475.7 196.6 L478.2 200.8 L483.2 201.6 L486.5 200.0 L488.2 205.0 L494.1 206.6 L486.6 209.1 L481.6 210.0 L474.9 209.1 L468.3 212.4 L464.0 210.8 L457.4 214.1 L455.0 218.3 L448.3 234.9 L450.0 234.0 L458.3 220.0 L454.1 234.9 L451.6 249.9 L453.3 266.5 L456.6 276.5 L460.8 279.0 L465.8 275.7 L469.9 266.5 L469.1 254.9 L464.9 243.2 L466.6 229.9 L471.6 221.6 L474.5 227.0 L476.6 218.3 L480.7 211.6 L488.2 213.3 L494.9 217.4 L499.9 224.9 L499.0 234.9 L494.9 239.9 L495.7 244.1 L498.5 243.0 L506.5 235.7 L510.7 243.2 L513.2 254.9 L511.5 259.9 L506.5 264.9 L504.9 272.3 L510.7 275.7 L519.9 274.5 L530.1 266.3 L538.3 263.3 L544.4 258.2 L550.5 250.0 L549.6 242.1 L564.3 238.0 L576.6 231.5 L579.0 229.0 L576.6 224.2 L579.0 218.4 L586.4 206.2" fill="none" stroke="#000" stroke-width="1.7" stroke-linejoin="round"/>
<path d="M675.4 186.6 L670.5 192.3 L667.0 197.0 L663.0 205.5 L658.0 206.0 L653.0 209.0 L648.5 212.5 L644.4 217.5 L642.7 225.0 L645.4 230.9 L643.0 235.7 L646.5 240.5 L645.0 246.0 L648.0 248.5 L643.0 249.5 L640.5 250.3 L632.0 255.1 L616.3 268.4 L612.7 272.0 L617.0 272.5 L617.7 280.6 L615.1 291.2 L611.9 297.5 L610.9 305.0 L609.8 314.5 L607.0 322.0 L605.5 330.0 L604.6 331.0 L609.9 339.3 L615.2 346.9 L616.7 352.2 L611.4 360.5 L605.4 368.1 L597.8 368.8 L592.5 374.1 L591.0 382.4 L581.2 383.9 L576.6 390.7 L573.0 397.3 L560.7 409.5 L554.6 419.7 L552.6 436.1 L552.7 440.0 L557.2 450.6 L566.3 465.7 L570.8 474.8 L579.9 488.4 L582.9 497.5 L582.9 509.6 L582.2 517.2 L578.4 522.5 L575.4 520.2 L570.8 520.2 L567.8 512.6 L561.8 510.3 L558.7 505.1 L551.2 497.5 L545.1 489.9 L540.6 480.8 L541.3 470.3 L537.6 464.2 L530.0 459.7 L528.1 456.5 L517.8 452.4 L512.9 456.4 L505.7 461.4 L501.4 457.9 L494.3 451.4 L485.7 449.3 L478.6 450.7 L471.0 452.5 L465.7 452.1 L455.7 456.4 L447.1 456.4 L442.9 462.1 L446.0 463.0 L451.4 462.1 L448.6 467.9 L454.3 472.1 L452.9 476.4 L450.0 473.6 L444.0 469.0 L438.6 466.4 L440.0 472.1 L434.3 473.6 L427.1 475.7 L422.9 470.7 L417.0 468.5 L412.9 466.4 L401.4 468.6 L391.4 467.1 L377.1 468.8 L368.9 476.9 L358.4 483.8 L349.9 491.2 L343.6 497.5 L340.4 503.9 L341.4 512.4 L344.1 525.1" fill="none" stroke="#000" stroke-width="1.7" stroke-linejoin="round"/>
<path d="M86.2 393.2 L85.2 385.0 L77.0 370.5 L64.7 358.3 L51.5 354.2 L48.4 331.7 L42.3 309.2 L43.3 299.0 L38.2 292.9 L33.0 270.4 L33.0 250.0 L39.2 231.4 L42.3 215.1 L51.5 200.8 L60.6 174.2 L62.7 168.5 L65.7 155.9 L63.7 134.8 L70.0 139.5 L77.0 141.0 L80.0 137.0 L83.5 131.0" fill="none" stroke="#000" stroke-width="1.7" stroke-linejoin="round"/>
<polygon points="79.9,135.6 86.6,136.2 87.6,140.7 88.5,148.4 85.3,153.6 84,159.3 76.9,160 75.2,156.8 78.2,152.9 81.4,149.1 82.7,142.6 80.1,139.4" fill="#000"/>
<path d="M601.5 288 L600.5 296 L602 304 L603 312 L604.5 320 L605.5 329" fill="none" stroke="#000" stroke-linejoin="round" stroke-linecap="round" stroke-width="2.4"/>
<path d="M586 296 L590 300 L593 299 L596 305 L600 309 M588 310 L593 312 L597 317 L602 321 M590 320 L596 323 L601 327 M588 327 L594 329 L599 331 L604 333 M597 292 L598 300" fill="none" stroke="#000" stroke-linejoin="round" stroke-linecap="round" stroke-width="1.9"/>
<path d="M601.9 285.9 L602 292 L605 296 L611 298 M606 293 L607 300 L608.5 308 L606 313" fill="none" stroke="#000" stroke-linejoin="round" stroke-linecap="round" stroke-width="1"/>
<path d="M597 338 L603 340 L607 338 M600 345 L606 346 L610 343 M598 352 L603 351 L606 355 L610 352 M596 358 L601 357 L604 361 M611 340 L613 347" fill="none" stroke="#000" stroke-linejoin="round" stroke-linecap="round" stroke-width="2"/>
<polygon points="613.5,348 616,351 615.5,354.5 612.5,357.5 612,353" fill="#40c080"/>
<path d="M645 247 L651 248.3 L658.5 249 L657.5 243.5 L655.5 239.5 L652.5 237.3" fill="none" stroke="#000" stroke-linejoin="round" stroke-linecap="round" stroke-width="1.8"/>
<path d="M655.5 240.5 L657.5 243.5" fill="none" stroke="#3060ff" stroke-width="1.6"/>
<path d="M52.5 362.5 L56 364.5 L61.5 364.8" fill="none" stroke="#000" stroke-linejoin="round" stroke-linecap="round" stroke-width="1.6"/>
<rect x="58" y="375" width="2.2" height="2" fill="#000"/><rect x="71.5" y="376.5" width="2.5" height="2.2" fill="#000"/><rect x="64.5" y="372" width="3" height="2.5" fill="#ffa500"/><rect x="68.5" y="380.5" width="3" height="4" fill="#ffa500"/>
<path d="M578.4 522.5 L570.8 527.7 L562.5 531.5" fill="none" stroke="#000" stroke-linejoin="round" stroke-linecap="round" stroke-width="1.2"/>
<rect x="556" y="530.5" width="3.5" height="2.5" fill="#ffff00"/><rect x="545" y="531.5" width="3.5" height="2.5" fill="#ffff00"/><path d="M579 521 L571.5 526 L564 530.5 L565 532 L573 528 L580 523Z" fill="#ffff00"/>
<path d="M443 462 L447 466 L444 470 L450 473 M439 467 L441 472 M448.5 457 L446.5 461.5 M413 466 L416.5 468.5" fill="none" stroke="#000" stroke-linejoin="round" stroke-linecap="round" stroke-width="1.5"/>
<path d="M560 410 L557 413 L555.5 418 L553.5 422 L553 428 L551.5 433" fill="none" stroke="#000" stroke-linejoin="round" stroke-linecap="round" stroke-width="2.3"/>
<path d="M566 466 L568 470" fill="none" stroke="#000" stroke-linejoin="round" stroke-linecap="round" stroke-width="2.2"/>
<path d="M340 503 L342 498 L346 493 L351 488 L355 485.5 M355 485 L362 482" fill="none" stroke="#000" stroke-linejoin="round" stroke-linecap="round" stroke-width="2.2"/>
<path d="M340.5 505 L341 512 L342.5 519" fill="none" stroke="#000" stroke-linejoin="round" stroke-linecap="round" stroke-width="1.6"/>
<path d="M443.8 352.6 L440.2 361.1 L436.6 368.4 L431.7 382.9 L426.9 395 L422 401.3" fill="none" stroke="#000" stroke-linejoin="round" stroke-linecap="round" stroke-width="1.7"/>
<path d="M662.5 205 L658 206 L653 209 L648.5 212.5 L645 217" fill="none" stroke="#000" stroke-linejoin="round" stroke-linecap="round" stroke-width="2.4"/>
<path d="M669 194.5 L665.5 199" fill="none" stroke="#000" stroke-linejoin="round" stroke-linecap="round" stroke-width="2"/>
<path d="M431 185.5 L435 183.2 L439.2 180.4" fill="none" stroke="#000" stroke-linejoin="round" stroke-linecap="round" stroke-width="1.5"/>
<circle cx="81.9" cy="528" r="33.6" fill="#fff" stroke="#000" stroke-width="1.4"/>
<path d="M54.5 509.2 C58 511 63 517 67.8 523.1 C72 529 76 533.5 81.2 534.6 C85 535 88.4 532.8 94.5 525.5 C97 521 99.3 517.1 104.2 510.4 L109.6 508.6 L113.3 515.2 C110 518 105 524 101.8 528 C99 531 97 532.5 95.7 533.4 L96.9 536.4 L93.3 537.6 L86 539.5 L76.3 543.7 L72.1 544.3 L69.7 541.9 L76.3 539.5 L78.7 538.2 C75 538 72 537.5 70.3 536.4 C66 534.5 62 532 54.5 524.3 L48.5 520.1 L50.3 514.6 Z" fill="#000"/>
<text x="67" y="518.9" font-family="Liberation Sans, Arial, sans-serif" font-weight="bold" font-size="13.5px" textLength="28.3" lengthAdjust="spacingAndGlyphs">NOAA</text>
<text transform="translate(126.5,556.3) scale(0.695,1)" font-family="Liberation Serif, serif" font-style="italic" font-weight="bold" font-size="50px" fill="#fff" stroke="#000" stroke-width="0.8">OCS</text>
<text x="433.5" y="532.2" font-family="Liberation Sans, Arial, sans-serif" font-size="12.5px" fill="#111" lengthAdjust="spacingAndGlyphs" textLength="61">OCTOBER</text>
<text x="324.7" y="549.5" font-family="Liberation Sans, Arial, sans-serif" font-size="12.5px" fill="#111" lengthAdjust="spacingAndGlyphs" textLength="50.5">RECORD</text>
<text x="383" y="549.5" font-family="Liberation Sans, Arial, sans-serif" font-size="12.5px" fill="#111" lengthAdjust="spacingAndGlyphs" textLength="58">EXTREME</text>
<text x="450.6" y="549.5" font-family="Liberation Sans, Arial, sans-serif" font-size="12.5px" fill="#111" lengthAdjust="spacingAndGlyphs" textLength="59">MAXIMUM</text>
<text x="515.7" y="549.5" font-family="Liberation Sans, Arial, sans-serif" font-size="12.5px" fill="#111" lengthAdjust="spacingAndGlyphs" textLength="95.3">TEMPERATURE</text>
<rect x="709" y="80.5" width="42" height="21" fill="#fff" stroke="#3a0a40" stroke-width="2.2"/>
<text x="759" y="96.3" font-family="Liberation Sans, Arial, sans-serif" font-size="14px" fill="#000">STATES</text>
<rect x="975" y="104.6" width="5" height="18.4" fill="#fff"/>
<text transform="translate(710.6,119.1) scale(0.978,1)" font-family="Liberation Sans, Arial, sans-serif" font-size="14px" fill="#000">10 RECORD EXTREME MAX TEMP (DEG_F)</text>
<rect x="708" y="123" width="44" height="20.3" fill="#000000"/>
<text transform="translate(759.2,139.6) scale(0.98,1)" font-family="Liberation Sans, Arial, sans-serif" font-size="14px" fill="#000">- OCTOBER -</text>
<rect x="708" y="143" width="44" height="20.5" fill="#a347ff"/>
<text transform="translate(759.2,160.6) scale(0.98,1)" font-family="Liberation Sans, Arial, sans-serif" font-size="14px" fill="#000">C 61 - 70</text>
<rect x="708" y="163.2" width="44" height="20.7" fill="#4169e1"/>
<text transform="translate(759.2,180.7) scale(0.98,1)" font-family="Liberation Sans, Arial, sans-serif" font-size="14px" fill="#000">D 71 - 80</text>
<rect x="708" y="183.6" width="44" height="20.7" fill="#4fdca5"/>
<text transform="translate(759.2,200.6) scale(0.98,1)" font-family="Liberation Sans, Arial, sans-serif" font-size="14px" fill="#000">E 81 - 90</text>
<rect x="708" y="204" width="44" height="20.3" fill="#f2f82e"/>
<text transform="translate(759.2,221.3) scale(0.98,1)" font-family="Liberation Sans, Arial, sans-serif" font-size="14px" fill="#000">F 91 - 100</text>
<rect x="708" y="224" width="44" height="20.5" fill="#f6b81e"/>
<text transform="translate(759.2,241.4) scale(0.98,1)" font-family="Liberation Sans, Arial, sans-serif" font-size="14px" fill="#000">G 101 - 110</text>
<rect x="708" y="244.2" width="44" height="23.1" fill="#fa4020"/>
<text transform="translate(759.2,261.9) scale(0.98,1)" font-family="Liberation Sans, Arial, sans-serif" font-size="14px" fill="#000">H 111 - 120</text>
<polyline points="713.4,287 726.6,276.7 733,282 744.8,271.6" fill="none" stroke="#222" stroke-width="1"/>
<text x="759" y="284.8" font-family="Liberation Sans, Arial, sans-serif" font-size="14px" fill="#000" textLength="35" lengthAdjust="spacingAndGlyphs">TITLE</text>
<g fill="none" stroke="#000" stroke-linecap="round">
<line x1="658.7" y1="595.5" x2="636.8" y2="631.2" stroke-width="0.5" stroke="#555"/>
<line x1="660.5" y1="597.5" x2="683.5" y2="632" stroke-width="1.3"/>
<line x1="639.5" y1="631" x2="658.5" y2="624.5" stroke-width="2.2"/>
<line x1="659.5" y1="624.3" x2="683.5" y2="632.3" stroke-width="1"/>
</g>
<text x="652.3" y="651.8" font-family="Liberation Sans, Arial, sans-serif" font-size="27px" textLength="18" lengthAdjust="spacingAndGlyphs">N</text>
</svg>
</body></html>
